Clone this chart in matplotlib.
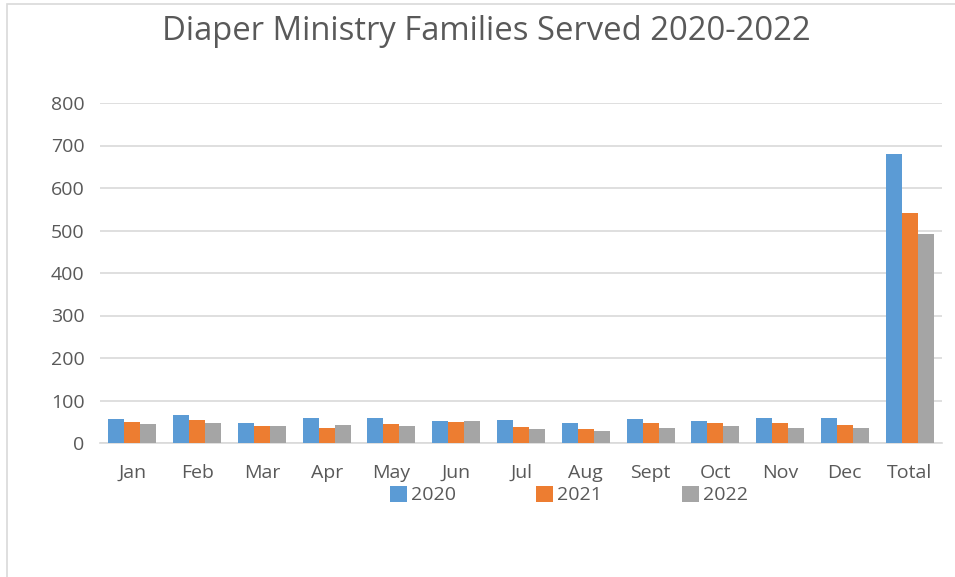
#!/usr/bin/env python3
"""Diaper ministry families served, monthly bars per year with a total column."""

import matplotlib.pyplot as plt
import numpy as np
from matplotlib.patches import Rectangle

months = ["Jan", "Feb", "Mar", "Apr", "May", "Jun", "Jul", "Aug", "Sept",
          "Oct", "Nov", "Dec", "Total"]
years = ["2020", "2021", "2022"]
served_2020 = [57, 66, 47, 58, 60, 51, 53, 48, 56, 51, 59, 58, 680]
served_2021 = [49, 55, 40, 35, 44, 50, 37, 33, 48, 47, 46, 42, 542]
served_2022 = [45, 46, 40, 43, 41, 52, 33, 29, 36, 40, 35, 36, 492]
y_ticks = [0, 100, 200, 300, 400, 500, 600, 700, 800]

colors = ["#5b9bd5", "#ed7d31", "#a5a5a5"]
text_grey = "#595959"

plt.rcParams["font.family"] = ["Open Sans", "DejaVu Sans"]

fig = plt.figure(figsize=(9.55, 5.77), dpi=100)
ax = fig.add_axes([100 / 955, 1 - 443 / 577, 842 / 955, 340 / 577])

x = np.arange(len(months))
w = 0.247
for i, (vals, lab) in enumerate(zip([served_2020, served_2021, served_2022], years)):
    ax.bar(x + (i - 1) * w, vals, width=w, color=colors[i], label=lab, zorder=3)

ax.set_xlim(-0.5, len(months) - 0.5)
ax.set_ylim(0, 800)
ax.set_yticks(y_ticks)
ax.set_xticks(x)
ax.set_xticklabels(months)
ax.yaxis.grid(True, color="#d9d9d9", lw=1.2, zorder=0)
for s in ["top", "right", "left"]:
    ax.spines[s].set_visible(False)
ax.spines["bottom"].set_color("#d9d9d9")
ax.spines["bottom"].set_linewidth(1.2)
ax.tick_params(axis="both", length=0, colors=text_grey, labelsize=14)
ax.tick_params(axis="x", pad=15)
ax.tick_params(axis="y", pad=11)

fig.text(486 / 955, 1 - 31 / 577, "Diaper Ministry Families Served 2020-2022",
         ha="center", va="center", fontsize=23.6, color=text_grey)

fig.legend(loc="center", bbox_to_anchor=(569 / 955, 1 - 495 / 577), ncol=3,
           frameon=False, fontsize=14, labelcolor=text_grey, handlelength=0.9,
           handleheight=0.9, handletextpad=0.2, columnspacing=4.1)

# outer chart frame, partly cut off at right and bottom
fig.patches.append(Rectangle((7 / 955, -0.1), 1.1, 1 - 4 / 577 + 0.1,
                             transform=fig.transFigure, fill=False,
                             edgecolor="#d9d9d9", lw=1.2))

fig.savefig("out.png", dpi=100, facecolor="white")
